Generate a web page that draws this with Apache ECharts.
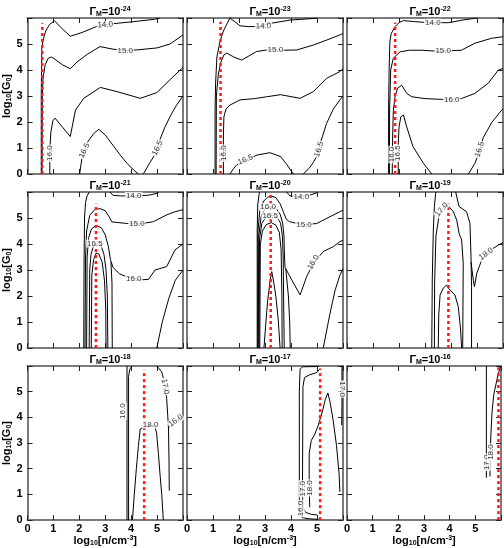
<!DOCTYPE html>
<html><head><meta charset="utf-8">
<script src="https://cdn.jsdelivr.net/npm/echarts@6/dist/echarts.min.js"></script>
<style>html,body{margin:0;padding:0;background:#fff}#c{width:504px;height:548px}</style>
</head><body><div id="c"></div>
<script>
// ---------- data ----------
const xTickLabels = [0, 1, 2, 3, 4, 5];
const yTickLabels = [0, 1, 2, 3, 4, 5];
const gammaExp = ['-24', '-23', '-22', '-21', '-20', '-19', '-18', '-17', '-16'];
const redX   = [0.57, 1.29, 1.85, 2.64, 3.22, 3.90, 4.50, 5.12, 5.90];
const redTop = [5.80, 5.86, 5.82, 5.55, 5.88, 5.56, 5.85, 5.90, 5.95];

// Panel 1 (1e-24)
const p1_c14 = [[0.53,0],[0.53,3.0],[0.55,4.8],[0.6,5.15],[0.7,5.5],[0.85,5.75],[1.04,5.9],[1.3,5.62],[1.65,5.3],[2.1,5.44],[2.8,5.73],[3.5,5.8],[4.1,5.86],[4.9,5.95],[5.1,6.0]];
const p1_c15 = [[0.56,0],[0.57,3.0],[0.6,3.7],[0.68,4.2],[0.8,4.45],[0.92,4.5],[1.05,4.42],[1.35,4.2],[1.65,4.05],[1.9,4.3],[2.3,4.6],[2.8,4.9],[3.3,4.8],[3.8,4.75],[4.3,4.78],[5.0,4.85],[5.5,5.0],[6.0,5.35]];
const p1_c16 = [[0.86,0],[0.86,0.9],[0.9,1.6],[0.98,2.05],[1.06,2.15],[1.35,1.8],[1.65,1.44],[1.85,2.46],[2.17,2.91],[2.81,3.33],[3.45,3.17],[4.35,2.91],[4.99,3.13],[5.69,3.81],[6.0,4.1]];
const p1_c165a = [[2.01,0],[2.1,0.6],[2.3,1.2],[2.55,1.55],[2.75,1.72],[3.0,1.5],[3.3,1.1],[3.6,0.7],[3.85,0.4],[4.1,0.15],[4.28,0]];
const p1_c165b = [[4.47,0],[4.7,0.4],[4.95,0.8],[5.1,1.3],[5.3,1.8],[5.55,2.3],[5.75,2.65],[6.0,3.0]];
const p1_labels = [[3.0,5.74,'14.0',4],[3.77,4.75,'15.0',0],[0.87,0.8,'16.0',90],[2.2,0.9,'16.5',65],[5.02,1.0,'16.5',65]];

// Panel 2 (1e-23)
const p2_c14 = [[1.08,0],[1.08,2.5],[1.1,3.5],[1.15,4.5],[1.27,5.1],[1.4,5.5],[1.55,5.8],[1.65,6.0],[1.85,5.85],[2.04,5.7],[2.35,5.67],[2.74,5.67],[3.19,5.79],[3.96,5.92],[4.99,5.99]];
const p2_c15 = [[1.12,0],[1.13,3.0],[1.2,3.8],[1.3,4.3],[1.42,4.58],[1.53,4.65],[1.8,4.5],[2.1,4.38],[2.68,4.71],[3.19,4.79],[3.7,4.76],[4.22,4.77],[4.86,4.96],[5.37,5.15],[5.88,5.35],[6,5.4]];
const p2_c16 = [[1.4,0],[1.4,1.5],[1.42,2.2],[1.5,2.5],[1.65,2.65],[2.04,2.85],[2.6,2.9],[3.06,2.97],[3.6,3.05],[4.35,2.91],[4.86,3.17],[5.37,3.68],[5.88,3.94],[6,4.05]];
const p2_c165a = [[1.65,0],[1.8,0.22],[1.91,0.35],[2.3,0.56],[2.7,0.73],[3.19,0.82],[3.6,0.67],[3.85,0.35],[4.09,0]];
const p2_c165b = [[4.47,0],[4.7,0.22],[4.86,0.45],[5.0,0.7],[5.1,1.1],[5.37,1.95],[5.63,2.5],[5.88,2.85],[6,3.0]];
const p2_labels = [[2.94,5.69,'14.0',2],[3.4,4.78,'15.0',0],[1.4,0.8,'16.0',90],[2.25,0.55,'16.5',22],[5.08,0.95,'16.5',72]];

// Panel 3 (1e-22)
const p3_c14 = [[1.6,0],[1.6,2.5],[1.62,4.0],[1.65,5.1],[1.7,5.4],[1.85,5.67],[2.0,5.82],[2.17,5.9],[2.6,5.86],[3.13,5.82],[3.9,5.82],[4.5,5.93],[5.0,6.0]];
const p3_c15 = [[1.63,0],[1.64,2.5],[1.68,4.0],[1.78,4.45],[2.04,4.7],[2.4,4.76],[2.88,4.76],[3.5,4.72],[4.4,4.76],[4.92,5.03],[5.56,5.22],[6,5.28]];
const p3_c16 = [[1.74,0],[1.75,1.2],[1.78,2.4],[1.85,3.0],[1.95,3.3],[2.1,3.42],[2.3,3.1],[2.49,2.97],[3.0,2.9],[3.64,2.87],[4.4,2.9],[4.92,3.1],[5.44,3.5],[5.82,4.0],[6,4.06]];
const p3_c165a = [[1.97,0],[1.97,1.1],[2.0,1.8],[2.07,2.2],[2.17,2.27],[2.3,1.8],[2.54,1.05],[2.94,0.41],[3.26,0]];
const p3_c165b = [[4.67,0],[4.92,0.41],[5.05,0.75],[5.24,1.4],[5.56,1.97],[5.95,2.46],[6,2.5]];
const p3_labels = [[3.3,5.82,'14.0',0],[3.7,4.73,'15.0',0],[1.74,0.75,'16.0',90],[4.03,2.87,'16.0',0],[1.97,0.8,'16.5',90],[5.1,0.95,'16.5',72]];

// Panel 4 (1e-21)
const p4_c14a = [[2.17,0],[2.18,3.0],[2.2,5.0],[2.24,5.6],[2.3,5.85],[2.38,6.0]];
const p4_c14b = [[3.18,6.0],[3.3,5.87],[3.6,5.85],[4.2,5.85],[4.7,5.88],[5.0,5.95],[5.05,6.0]];
const p4_c15 = [[2.22,0],[2.24,3.5],[2.28,4.5],[2.4,5.1],[2.6,5.33],[2.8,5.36],[3.0,5.28],[3.15,5.05],[3.25,4.85],[3.32,4.82],[3.83,4.79],[4.35,4.77],[4.86,4.86],[5.37,5.12],[5.69,5.24],[6,5.32]];
const p4_c16 = [[2.28,0],[2.3,3.5],[2.36,4.25],[2.47,4.58],[2.65,4.72],[2.85,4.62],[3.0,4.35],[3.12,3.9],[3.2,3.4],[3.3,3.1],[3.55,2.85],[3.83,2.74],[4.35,2.62],[4.67,2.64],[4.92,3.0],[5.37,3.13],[5.69,3.77],[6,4.0]];
const p4_c16r = [[3.22,3.3],[3.26,2.5],[3.27,0]];
const p4_c165 = [[2.38,0],[2.4,3.0],[2.45,3.6],[2.55,3.95],[2.68,4.1],[2.82,4.0],[2.95,3.6],[3.03,3.0],[3.08,2.0],[3.1,0]];
const p4_c17 = [[2.46,0],[2.48,2.8],[2.55,3.4],[2.65,3.65],[2.75,3.62],[2.88,3.3],[2.97,2.6],[3.02,1.5],[3.03,0]];
const p4_c165r = [[4.99,0],[5.2,1.0],[5.45,1.9],[5.7,2.6],[6,3.0]];
const p4_labels = [[4.1,5.85,'14.0',0],[4.22,4.77,'15.0',0],[4.1,2.68,'16.0',0],[2.6,4.02,'16.5',0]];

// Panel 5 (1e-20)
const p5_c14a = [[2.7,0],[2.7,4.5],[2.72,5.5],[2.77,5.9],[2.8,6.0]];
const p5_c14b = [[3.83,6.0],[3.96,5.85],[4.22,5.82],[4.73,5.88],[4.99,5.97],[5.02,6.0]];
const p5_c15 = [[2.72,0],[2.73,4.5],[2.8,5.3],[2.95,5.65],[3.1,5.8],[3.26,5.84],[3.42,5.78],[3.58,5.55],[3.72,5.2],[3.82,4.95],[3.94,4.86],[4.47,4.73],[4.99,4.79],[5.5,5.05],[5.88,5.24],[6,5.3]];
const p5_c16 = [[2.74,0],[2.76,4.3],[2.85,5.05],[3.0,5.35],[3.2,5.45],[3.4,5.4],[3.58,5.15],[3.68,4.8],[3.73,4.3],[3.75,3.5],[3.77,3.1],[4.03,2.62],[4.35,2.04],[4.6,2.74],[4.86,3.26],[5.24,3.71],[5.63,3.9],[5.88,4.09],[6,4.15]];
const p5_c165 = [[2.77,0],[2.79,4.2],[2.88,4.8],[3.05,5.05],[3.25,5.12],[3.45,5.05],[3.6,4.8],[3.67,4.3],[3.7,3.5],[3.72,1.5],[3.74,0]];
const p5_c17 = [[2.8,0],[2.82,4.0],[2.9,4.5],[3.05,4.75],[3.25,4.82],[3.42,4.72],[3.55,4.45],[3.62,3.8],[3.65,2.0],[3.66,0]];
const p5_c18 = [[2.96,0],[3.02,0.8],[3.1,1.8],[3.2,2.6],[3.26,2.94],[3.34,2.5],[3.42,1.97],[3.51,1.08],[3.58,0]];
const p5_c16r = [[3.8,3.05],[3.9,2.0],[3.95,1.0],[3.97,0]];
const p5_c165r = [[5.24,0],[5.5,1.33],[5.69,2.2],[5.88,2.8],[6,3.05]];
const p5_labels = [[4.4,5.82,'14.0',0],[4.5,4.74,'15.0',0],[3.12,5.42,'16.0',0],[3.2,5.1,'16.5',0],[4.86,3.3,'16.0',60]];

// Panel 6 (1e-19)
const p6_c16 = [[3.26,0],[3.28,2.62],[3.32,4.54],[3.36,5.44],[3.41,5.95],[3.42,6.0]];
const p6_c16r = [[4.18,6.0],[4.31,5.44],[4.6,5.24],[4.73,4.79],[4.77,3.5],[4.79,2.36],[4.79,0]];
const p6_c17 = [[3.36,0],[3.37,2.5],[3.42,4.3],[3.55,5.15],[3.77,5.5],[3.9,5.46],[4.09,5.24],[4.22,4.92],[4.31,4.41],[4.41,4.15],[4.47,3.26],[4.46,1.5],[4.45,0]];
const p6_c18 = [[3.51,0],[3.53,1.3],[3.58,2.04],[3.7,2.3],[3.83,2.42],[3.9,2.3],[3.96,2.23],[4.15,2.04],[4.28,1.59],[4.36,0.8],[4.41,0]];
const p6_c18r = [[4.77,3.3],[4.86,2.6],[4.9,2.36],[4.99,2.87],[5.18,3.38],[5.44,3.71],[5.82,3.96],[6,4.06]];
const p6_labels = [[3.64,5.32,'17.0',50],[5.35,3.62,'18.0',35]];

// Panel 7 (1e-18)
const p7_c16 = [[3.84,0],[3.84,6.0]];
const p7_c16b = [[3.9,0],[3.9,5.6],[3.95,5.88],[4.03,6.0]];
const p7_c18 = [[4.05,0],[4.12,1.0],[4.2,2.0],[4.28,2.9],[4.35,3.55],[4.5,3.62],[4.9,3.7],[4.98,3.4],[5.05,2.6],[5.12,1.7],[5.18,1.0],[5.24,0]];
const p7_c17 = [[4.99,6.0],[5.18,5.77],[5.28,5.38],[5.37,4.74],[5.44,3.59],[5.46,2.31],[5.47,1.15]];
const p7_c16r = [[5.46,3.6],[5.7,3.85],[6,4.05]];
const p7_labels = [[3.68,4.24,'16.0',90],[4.75,3.72,'18.0',0],[5.31,5.2,'17.0',-80],[5.72,3.87,'16.0',35]];

// Panel 8 (1e-17)
const p8_c16 = [[5.08,5.98],[4.45,5.97],[4.35,5.88],[4.32,5.0],[4.32,1.0],[4.33,0.3],[4.42,0.1],[4.7,0.05],[5.05,0.03]];
const p8_c17 = [[5.08,5.85],[5.0,5.75],[4.7,5.65],[4.52,5.55],[4.46,5.2],[4.44,1.0],[4.46,0.5],[4.56,0.3],[4.8,0.22],[5.0,0.2]];
const p8_c18 = [[4.72,0.5],[4.7,1.5],[4.7,2.6],[4.78,3.1],[4.92,3.35],[5.05,3.7],[5.2,4.2],[5.32,4.7],[5.42,4.95],[5.5,4.6],[5.62,3.9],[5.75,2.9],[5.85,1.8],[5.88,1.1]];
const p8_c17r = [[5.96,6.0],[5.96,4.5],[5.95,3.7]];
const p8_labels = [[4.38,0.45,'16.0',90],[4.45,1.22,'17.0',90],[4.71,1.25,'18.0',90],[5.97,5.1,'17.0',-90]];

// Panel 9 (1e-16)
const p9_c17 = [[5.43,6.0],[5.43,1.65]];
const p9_c18 = [[5.98,6.0],[5.85,5.5],[5.72,4.9],[5.65,4.2],[5.6,3.2],[5.58,2.2],[5.57,1.7]];
const p9_labels = [[5.45,2.25,'17.0',90],[5.61,2.65,'18.0',90]];

const panels = [
  {lines:[p1_c14,p1_c15,p1_c16,p1_c165a,p1_c165b], labels:p1_labels},
  {lines:[p2_c14,p2_c15,p2_c16,p2_c165a,p2_c165b], labels:p2_labels},
  {lines:[p3_c14,p3_c15,p3_c16,p3_c165a,p3_c165b], labels:p3_labels},
  {lines:[p4_c14a,p4_c14b,p4_c15,p4_c16,p4_c16r,p4_c165,p4_c17,p4_c165r], labels:p4_labels},
  {lines:[p5_c14a,p5_c14b,p5_c15,p5_c16,p5_c165,p5_c17,p5_c18,p5_c16r,p5_c165r], labels:p5_labels},
  {lines:[p6_c16,p6_c16r,p6_c17,p6_c18,p6_c18r], labels:p6_labels},
  {lines:[p7_c16,p7_c16b,p7_c18,p7_c17,p7_c16r], labels:p7_labels},
  {lines:[p8_c16,p8_c17,p8_c18,p8_c17r], labels:p8_labels},
  {lines:[p9_c17,p9_c18], labels:p9_labels}
];

// ---------- chart ----------
const FONT = 'Liberation Sans';
const colLeft = [27, 187, 347], rowTop = [18, 192, 366], PW = 156, PH = 156;
const grids = [], xAxes = [], yAxes = [], series = [], titles = [];
const frame = {show:true, onZero:false, lineStyle:{color:'#7a7a7a', width:2}};
const tick = {show:true, inside:true, length:5, lineStyle:{color:'#222', width:1}};
const tickFmt = v => (xTickLabels.indexOf(v) >= 0 ? String(v) : '');
const tickFmtY = v => (yTickLabels.indexOf(v) >= 0 ? String(v) : '');
const subRich = {
  t:{fontSize:11, fontWeight:'bold', fontFamily:FONT, color:'#000'},
  s:{fontSize:7, fontWeight:'bold', fontFamily:FONT, color:'#000', verticalAlign:'bottom', padding:[5,0,0,0]},
  p:{fontSize:7, fontWeight:'bold', fontFamily:FONT, color:'#000', verticalAlign:'top', padding:[0,0,5,0]}
};

panels.forEach((p, i) => {
  const r = Math.floor(i / 3), c = i % 3;
  grids.push({left:colLeft[c], top:rowTop[r], width:PW, height:PH});
  xAxes.push({type:'value', gridIndex:i, min:0, max:6, interval:1, position:'bottom',
    axisLine:frame, axisTick:tick, splitLine:{show:false},
    axisLabel:{show:r===2, formatter:tickFmt, fontSize:11, fontWeight:'bold', fontFamily:FONT, color:'#000', margin:3},
    name: r===2 ? '{t|log}{s|10}{t|[n/cm}{p|-3}{t|]}' : '', nameLocation:'middle', nameGap:14,
    nameTextStyle:{rich:subRich}});
  xAxes.push({type:'value', gridIndex:i, min:0, max:6, interval:1, position:'top',
    axisLine:frame, axisTick:tick, splitLine:{show:false}, axisLabel:{show:false}});
  yAxes.push({type:'value', gridIndex:i, min:0, max:6, interval:1, position:'left',
    axisLine:frame, axisTick:tick, splitLine:{show:false},
    axisLabel:{show:c===0, formatter:tickFmtY, fontSize:11, fontWeight:'bold', fontFamily:FONT, color:'#000', margin:5},
    name: c===0 ? '{t|log}{s|10}{t|[G}{s|0}{t|]}' : '', nameLocation:'middle', nameGap:15, nameRotate:90,
    nameTextStyle:{rich:subRich}});
  yAxes.push({type:'value', gridIndex:i, min:0, max:6, interval:1, position:'right',
    axisLine:frame, axisTick:tick, splitLine:{show:false}, axisLabel:{show:false}});
  const xi = 2 * i, yi = 2 * i;
  p.lines.forEach(d => series.push({type:'line', xAxisIndex:xi, yAxisIndex:yi, data:d,
    symbol:'none', showSymbol:false, silent:true, z:2, animation:false,
    lineStyle:{color:'#000', width:1}}));
  series.push({type:'line', xAxisIndex:xi, yAxisIndex:yi, data:[[redX[i],0],[redX[i],redTop[i]]],
    symbol:'none', silent:true, z:3, animation:false,
    lineStyle:{color:'#ff1a1a', width:2.5, type:[3,3]}});
  series.push({type:'scatter', xAxisIndex:xi, yAxisIndex:yi, silent:true, z:5, animation:false,
    symbolSize:1, itemStyle:{color:'rgba(0,0,0,0)'},
    data: p.labels.map(l => ({value:[l[0], l[1]],
      label:{show:true, position:'inside', formatter:l[2], rotate:l[3],
        fontSize:8, fontFamily:FONT, color:'#000', backgroundColor:'#fff', padding:[0,1]}}))});
  titles.push({text:'{g|Γ}{m|M}{g|=10}{e|' + gammaExp[i] + '}',
    left: colLeft[c] + PW / 2, top: rowTop[r] - 17, textAlign:'center',
    textStyle:{rich:{
      g:{fontSize:11, fontWeight:'bold', fontFamily:FONT, color:'#000'},
      m:{fontSize:7, fontWeight:'bold', fontFamily:FONT, color:'#000', verticalAlign:'bottom', padding:[5,0,0,0]},
      e:{fontSize:7, fontWeight:'bold', fontFamily:FONT, color:'#000', verticalAlign:'top', padding:[0,0,5,0]}
    }}});
});

const chart = echarts.init(document.getElementById('c'), null, {renderer:'canvas'});
chart.setOption({animation:false, backgroundColor:'#fff', title:titles, grid:grids, xAxis:xAxes, yAxis:yAxes, series:series});
</script></body></html>
